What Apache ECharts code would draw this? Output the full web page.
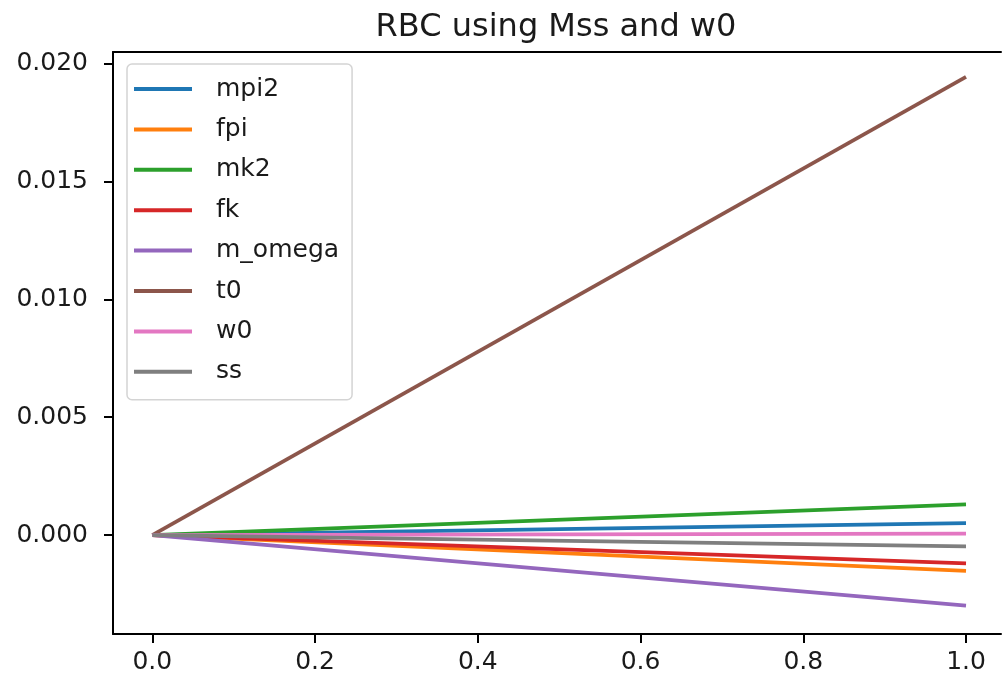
<!DOCTYPE html>
<html>
<head>
<meta charset="utf-8">
<title>RBC using Mss and w0</title>
<script src="https://cdn.jsdelivr.net/npm/echarts@6/dist/echarts.min.js"></script>
<style>
  html, body { margin: 0; padding: 0; background: #fff; }
  #chart { width: 1002px; height: 678px; }
</style>
</head>
<body>
<div id="chart"></div>
<script>
// x positions of the two samples
const xValues = [0.0, 1.0];

// relative change of each quantity
const mpi2 = [0.0, 0.00051];
const fpi = [0.0, -0.00152];
const mk2 = [0.0, 0.0013];
const fk = [0.0, -0.0012];
const mOmega = [0.0, -0.003];
const t0 = [0.0, 0.01944];
const w0 = [0.0, 0.000055];
const ss = [0.0, -0.00048];

const seriesNames = ["mpi2", "fpi", "mk2", "fk", "m_omega", "t0", "w0", "ss"];
const seriesValues = [mpi2, fpi, mk2, fk, mOmega, t0, w0, ss];
const colors = ["#1f77b4", "#ff7f0e", "#2ca02c", "#d62728", "#9467bd", "#8c564b", "#e377c2", "#7f7f7f"];

const xTicks = [0.0, 0.2, 0.4, 0.6, 0.8, 1.0];
const yTicks = [0.0, 0.005, 0.01, 0.015, 0.02];

const font = "DejaVu Sans";

const chart = echarts.init(document.getElementById("chart"));

// the right spine of the original is cut off by the image edge,
// so the x range runs a bit past 1.0 and only left/top/bottom spines are drawn
const xMin = -0.0483;
const xMax = 1.043;

chart.setOption({
  backgroundColor: "#fff",
  animation: false,
  color: colors,
  title: {
    text: "RBC using Mss and w0",
    left: 556,
    top: 12,
    textAlign: "center",
    padding: 0,
    textStyle: {
      fontFamily: font,
      fontSize: 32,
      fontWeight: "normal",
      color: "#1a1a1a",
    },
  },
  grid: {
    left: 113,
    top: 52,
    right: 1,
    bottom: 44,
  },
  legend: {
    orient: "vertical",
    left: 127,
    top: 64,
    padding: [12, 13, 15, 7],
    icon: "rect",
    itemWidth: 58,
    itemHeight: 4,
    itemGap: 14.4,
    backgroundColor: "#fff",
    borderColor: "#d4d4d4",
    borderWidth: 1.5,
    borderRadius: 5,
    data: seriesNames,
    textStyle: {
      fontFamily: font,
      fontSize: 25,
      lineHeight: 26,
      color: "#1a1a1a",
      padding: [0, 0, 0, 19],
    },
  },
  xAxis: [
    {
      type: "value",
      min: xMin,
      max: xMax,
      axisLine: { show: true, onZero: false, lineStyle: { color: "#000", width: 2 } },
      axisTick: {
        show: true,
        length: 9,
        lineStyle: { color: "#000", width: 2 },
        customValues: xTicks,
      },
      axisLabel: {
        fontFamily: font,
        fontSize: 25,
        color: "#1a1a1a",
        margin: 16,
        customValues: xTicks,
        formatter: (v) => v.toFixed(1),
      },
      splitLine: { show: false },
    },
    {
      type: "value",
      position: "top",
      min: xMin,
      max: xMax,
      axisLine: { show: true, onZero: false, lineStyle: { color: "#000", width: 2 } },
      axisTick: { show: false },
      axisLabel: { show: false },
      splitLine: { show: false },
    },
  ],
  yAxis: {
    type: "value",
    min: -0.0042,
    max: 0.0205,
    axisLine: { show: true, onZero: false, lineStyle: { color: "#000", width: 2 } },
    axisTick: {
      show: true,
      length: 9,
      lineStyle: { color: "#000", width: 2 },
      customValues: yTicks,
    },
    axisLabel: {
      fontFamily: font,
      fontSize: 25,
      color: "#1a1a1a",
      margin: 25,
      customValues: yTicks,
      formatter: (v) => v.toFixed(3),
    },
    splitLine: { show: false },
  },
  series: seriesNames.map((name, i) => ({
    name: name,
    type: "line",
    symbol: "none",
    xAxisIndex: 0,
    data: xValues.map((x, j) => [x, seriesValues[i][j]]),
    lineStyle: { width: 3.75, color: colors[i] },
    itemStyle: { color: colors[i] },
  })),
});
</script>
</body>
</html>
